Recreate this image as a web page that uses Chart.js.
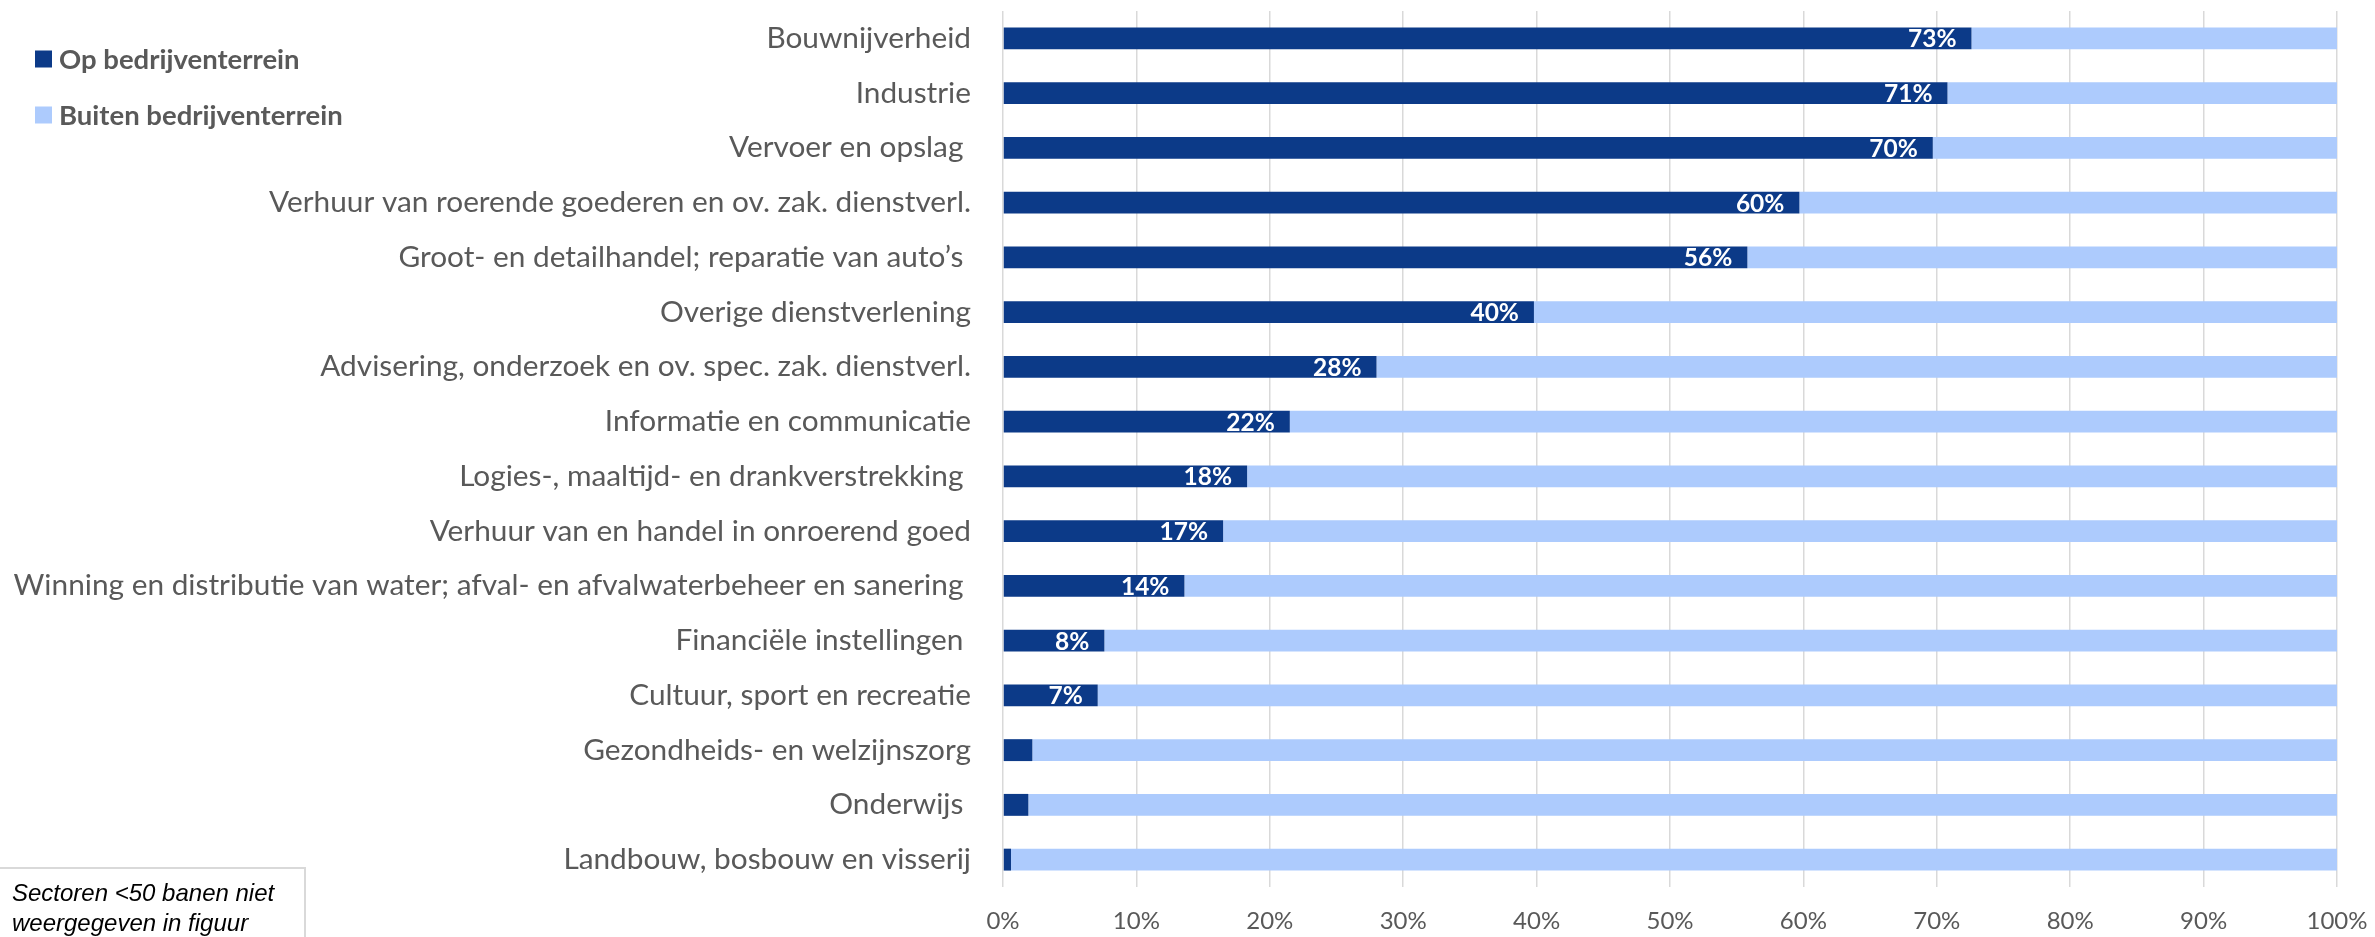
<!DOCTYPE html>
<html>
<head>
<meta charset="utf-8">
<script src="https://cdn.jsdelivr.net/npm/chart.js@4/dist/chart.umd.min.js"></script>
<style>
html,body{margin:0;padding:0;background:#fff;overflow:hidden;}
#wrap{position:relative;width:2375px;height:937px;}
#c{position:absolute;left:0;top:0;}
#note{position:absolute;left:-2px;top:867px;width:308px;height:90px;border:2px solid #d9d9d9;box-sizing:border-box;
  font-family:"Liberation Sans",Arial,sans-serif;font-style:italic;font-size:24px;line-height:30px;color:#000;padding:9px 0 0 12px;white-space:nowrap;}
</style>
</head>
<body>
<div id="wrap">
<canvas id="c" width="2375" height="937"></canvas>
<div id="note">Sectoren &lt;50 banen niet<br>weergegeven in figuur</div>
</div>
<script>
const categories = [
  "Bouwnijverheid",
  "Industrie",
  "Vervoer en opslag ",
  "Verhuur van roerende goederen en ov. zak. dienstverl.",
  "Groot- en detailhandel; reparatie van auto\u2019s ",
  "Overige dienstverlening",
  "Advisering, onderzoek en ov. spec. zak. dienstverl.",
  "Informatie en communicatie",
  "Logies-, maaltijd- en drankverstrekking ",
  "Verhuur van en handel in onroerend goed",
  "Winning en distributie van water; afval- en afvalwaterbeheer en sanering ",
  "Financi\u00eble instellingen ",
  "Cultuur, sport en recreatie",
  "Gezondheids- en welzijnszorg",
  "Onderwijs ",
  "Landbouw, bosbouw en visserij"
];
const seriesNames = ["Op bedrijventerrein", "Buiten bedrijventerrein"];
const opValues     = [72.6, 70.8, 69.7, 59.7, 55.8, 39.8, 28.0, 21.5, 18.3, 16.5, 13.6, 7.6, 7.1, 2.2, 1.9, 0.6];
const buitenValues = [27.4, 29.2, 30.3, 40.3, 44.2, 60.2, 72.0, 78.5, 81.7, 83.5, 86.4, 92.4, 92.9, 97.8, 98.1, 99.4];
const opLabels     = ["73%","71%","70%","60%","56%","40%","28%","22%","18%","17%","14%","8%","7%","","",""];
const xTicks       = [0,10,20,30,40,50,60,70,80,90,100];

const DARK = "#0c3a88";
const LIGHT = "#adcbfd";
const GREY_TEXT = "#595959";

const valueLabelPlugin = {
  id: "valueLabels",
  afterDatasetsDraw(chart) {
    const ctx = chart.ctx;
    const meta = chart.getDatasetMeta(0);
    ctx.save();
    ctx.font = "bold 24.5px Lato";
    ctx.fillStyle = "#ffffff";
    ctx.textAlign = "right";
    ctx.textBaseline = "middle";
    meta.data.forEach((bar, i) => {
      const t = opLabels[i];
      if (t) ctx.fillText(t, bar.x - 15, bar.y + 1);
    });
    ctx.restore();
  }
};

const legendPlugin = {
  id: "sideLegend",
  afterDraw(chart) {
    const ctx = chart.ctx;
    ctx.save();
    ctx.font = "bold 27.5px Lato";
    ctx.textBaseline = "middle";
    ctx.textAlign = "left";
    chart.data.datasets.forEach((ds, i) => {
      const cy = 59 + i * 56;
      ctx.fillStyle = ds.backgroundColor;
      ctx.fillRect(35, cy - 8.5, 17, 17);
      ctx.fillStyle = GREY_TEXT;
      ctx.fillText(ds.label, 59, cy + 1);
    });
    ctx.restore();
  }
};

new Chart(document.getElementById("c"), {
  type: "bar",
  data: {
    labels: categories,
    datasets: [
      { label: seriesNames[0], data: opValues, backgroundColor: DARK, barPercentage: 0.4, categoryPercentage: 1 },
      { label: seriesNames[1], data: buitenValues, backgroundColor: LIGHT, barPercentage: 0.4, categoryPercentage: 1 }
    ]
  },
  options: {
    indexAxis: "y",
    responsive: false,
    devicePixelRatio: 1,
    animation: false,
    layout: { padding: { top: 11, right: 38, left: 0, bottom: 0 } },
    plugins: { legend: { display: false }, tooltip: { enabled: false } },
    scales: {
      x: {
        stacked: true,
        min: 0, max: 100,
        afterBuildTicks(scale) { scale.ticks = xTicks.map(v => ({ value: v })); },
        afterFit(scale) { scale.height = 50; scale.paddingLeft = 0; scale.paddingRight = 0; },
        grid: { color: "#d9d9d9", lineWidth: 1.5, drawTicks: false },
        border: { display: false },
        ticks: { color: GREY_TEXT, font: { family: "Lato", size: 24 }, padding: 20, callback: v => v + "%" }
      },
      y: {
        stacked: true,
        afterFit(scale) { scale.width = 1003; scale.paddingTop = 0; scale.paddingBottom = 0; },
        grid: { display: false, drawTicks: false },
        border: { display: false },
        ticks: { color: GREY_TEXT, font: { family: "Lato", size: 29.8 }, padding: 32, autoSkip: false }
      }
    }
  },
  plugins: [valueLabelPlugin, legendPlugin]
});
</script>
</body>
</html>
